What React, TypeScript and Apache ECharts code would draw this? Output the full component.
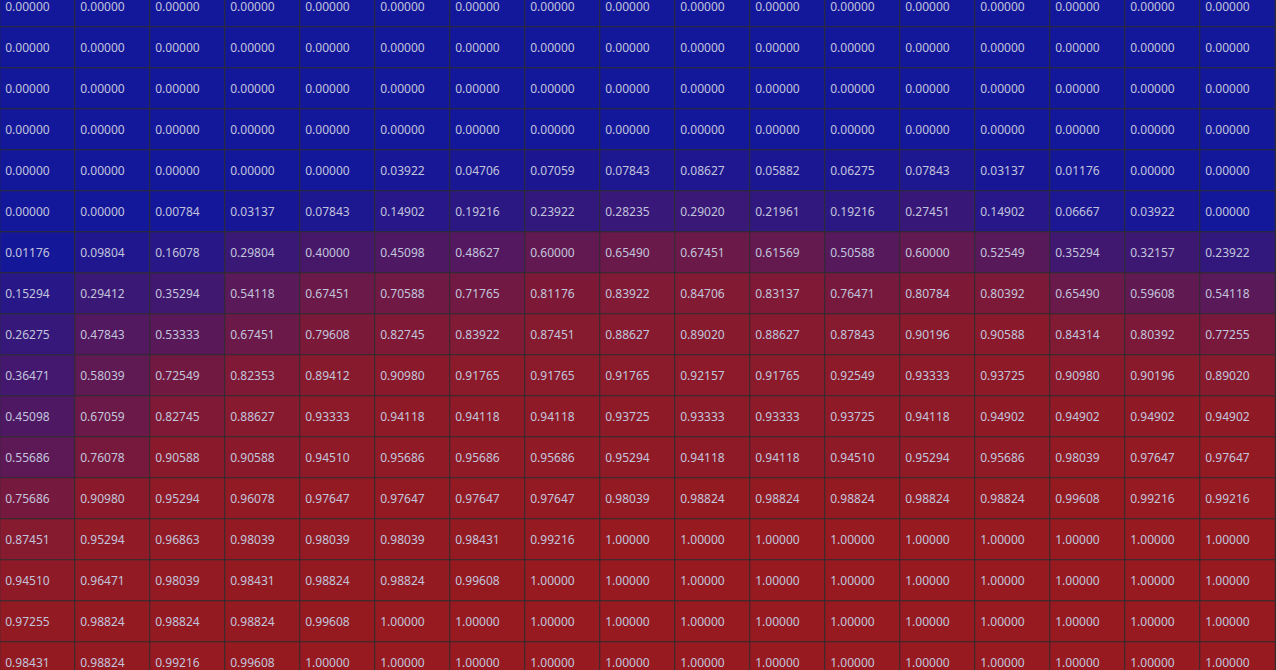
import React, { useEffect, useRef } from "react";
import * as echarts from "echarts";

const columns = ["c1","c2","c3","c4","c5","c6","c7","c8","c9","c10","c11","c12","c13","c14","c15","c16","c17"];
const rowNames = ["r1","r2","r3","r4","r5","r6","r7","r8","r9","r10","r11","r12","r13","r14","r15","r16","r17"];

const row1 = [0,0,0,0,0,0,0,0,0,0,0,0,0,0,0,0,0];
const row2 = [0,0,0,0,0,0,0,0,0,0,0,0,0,0,0,0,0];
const row3 = [0,0,0,0,0,0,0,0,0,0,0,0,0,0,0,0,0];
const row4 = [0,0,0,0,0,0,0,0,0,0,0,0,0,0,0,0,0];
const row5 = [0,0,0,0,0,0.03922,0.04706,0.07059,0.07843,0.08627,0.05882,0.06275,0.07843,0.03137,0.01176,0,0];
const row6 = [0,0,0.00784,0.03137,0.07843,0.14902,0.19216,0.23922,0.28235,0.2902,0.21961,0.19216,0.27451,0.14902,0.06667,0.03922,0];
const row7 = [0.01176,0.09804,0.16078,0.29804,0.4,0.45098,0.48627,0.6,0.6549,0.67451,0.61569,0.50588,0.6,0.52549,0.35294,0.32157,0.23922];
const row8 = [0.15294,0.29412,0.35294,0.54118,0.67451,0.70588,0.71765,0.81176,0.83922,0.84706,0.83137,0.76471,0.80784,0.80392,0.6549,0.59608,0.54118];
const row9 = [0.26275,0.47843,0.53333,0.67451,0.79608,0.82745,0.83922,0.87451,0.88627,0.8902,0.88627,0.87843,0.90196,0.90588,0.84314,0.80392,0.77255];
const row10 = [0.36471,0.58039,0.72549,0.82353,0.89412,0.9098,0.91765,0.91765,0.91765,0.92157,0.91765,0.92549,0.93333,0.93725,0.9098,0.90196,0.8902];
const row11 = [0.45098,0.67059,0.82745,0.88627,0.93333,0.94118,0.94118,0.94118,0.93725,0.93333,0.93333,0.93725,0.94118,0.94902,0.94902,0.94902,0.94902];
const row12 = [0.55686,0.76078,0.90588,0.90588,0.9451,0.95686,0.95686,0.95686,0.95294,0.94118,0.94118,0.9451,0.95294,0.95686,0.98039,0.97647,0.97647];
const row13 = [0.75686,0.9098,0.95294,0.96078,0.97647,0.97647,0.97647,0.97647,0.98039,0.98824,0.98824,0.98824,0.98824,0.98824,0.99608,0.99216,0.99216];
const row14 = [0.87451,0.95294,0.96863,0.98039,0.98039,0.98039,0.98431,0.99216,1,1,1,1,1,1,1,1,1];
const row15 = [0.9451,0.96471,0.98039,0.98431,0.98824,0.98824,0.99608,1,1,1,1,1,1,1,1,1,1];
const row16 = [0.97255,0.98824,0.98824,0.98824,0.99608,1,1,1,1,1,1,1,1,1,1,1,1];
const row17 = [0.98431,0.98824,0.99216,0.99608,1,1,1,1,1,1,1,1,1,1,1,1,1];

const rows = [row1,row2,row3,row4,row5,row6,row7,row8,row9,row10,row11,row12,row13,row14,row15,row16,row17];

export default function App() {
  const ref = useRef<HTMLDivElement>(null);
  useEffect(() => {
    document.body.style.margin = "0";
    document.body.style.overflow = "hidden";
    const chart = echarts.init(ref.current!, undefined, { renderer: "svg" });
    const data: [number, number, number][] = [];
    rows.forEach((r, yi) => r.forEach((v, xi) => data.push([xi, yi, v])));
    chart.setOption({
      animation: false,
      backgroundColor: "#2a2a2e",
      grid: { left: 0, top: 0, width: 1275, height: 697, containLabel: false },
      xAxis: { type: "category", data: columns, show: false },
      yAxis: { type: "category", data: rowNames, inverse: true, show: false },
      visualMap: {
        show: false,
        type: "continuous",
        min: 0,
        max: 1,
        dimension: 2,
        inRange: { color: ["#13179a", "#961a20"] },
      },
      series: [
        {
          type: "heatmap",
          data,
          itemStyle: { borderColor: "#2e2e30", borderWidth: 1 },
          emphasis: { disabled: true },
          label: {
            show: true,
            position: "insideLeft",
            distance: 6,
            color: "#c2c4dc",
            fontFamily: "Noto Sans",
            fontSize: 12,
            formatter: (p: any) => Number(p.value[2]).toFixed(5),
          },
        },
      ],
    });
    return () => chart.dispose();
  }, []);
  return (
    <div style={{ position: "fixed", left: 0, top: 0, width: 1276, height: 670, overflow: "hidden" }}>
      <div ref={ref} style={{ position: "absolute", left: 0, top: -14, width: 1276, height: 697 }} />
    </div>
  );
}
